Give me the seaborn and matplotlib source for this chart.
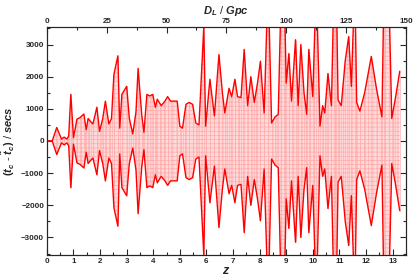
import numpy as np
import pandas as pd
import matplotlib
matplotlib.use('Agg')
import matplotlib.pyplot as plt
import seaborn as sns
from matplotlib.ticker import MultipleLocator

# redshift samples and timing error envelope (secs); values > ylim run off the plot
z = [0.0, 0.2, 0.37, 0.55, 0.65, 0.75, 0.82, 0.9, 1.0, 1.13, 1.25, 1.39, 1.48, 1.55,
     1.65, 1.73, 1.88, 1.98, 2.1, 2.2, 2.33, 2.43, 2.52, 2.67, 2.74, 2.82, 3.0, 3.1,
     3.23, 3.35, 3.43, 3.57, 3.65, 3.76, 3.87, 3.98, 4.08, 4.15, 4.3, 4.44, 4.54, 4.65,
     4.9, 5.0, 5.1, 5.23, 5.35, 5.48, 5.6, 5.72, 5.9, 5.97, 6.13, 6.3, 6.47, 6.6, 6.69,
     6.85, 6.95, 7.07, 7.17, 7.3, 7.42, 7.55, 7.67, 7.8, 7.92, 8.03, 8.17, 8.32, 8.45,
     8.58, 8.7, 8.82, 8.92, 9.0, 9.1, 9.2, 9.35, 9.45, 9.55, 9.67, 9.77, 9.85, 10.0,
     10.13, 10.27, 10.37, 10.45, 10.57, 10.7, 10.8, 10.88, 10.95, 11.07, 11.22, 11.35,
     11.45, 11.58, 11.65, 11.77, 11.95, 12.2, 12.4, 12.6, 12.68, 12.85, 12.97, 13.1, 13.27]
dt = [0, 0, 420, 60, 120, 60, 150, 1450, 100, 680, 730, 840, 350, 700,
      600, 530, 1050, 300, 700, 1240, 530, 700, 2070, 2650, 400, 1450, 1700, 700,
      220, 900, 2260, 780, 270, 1450, 1400, 1450, 1050, 1300, 1100, 1240, 1380, 1240,
      1240, 460, 400, 1140, 1200, 1140, 560, 500, 3550, 460, 1920, 780, 2690, 1500, 870,
      1640, 1380, 1920, 1380, 1350, 2850, 1100, 2000, 1200, 1800, 2480, 870, 5000, 560,
      750, 830, 5000, 5000, 1800, 2720, 1240, 3150, 1100, 3000, 1500, 830, 2850, 1380,
      5000, 460, 1100, 870, 2100, 1100, 5000, 5000, 1280, 1100, 2500, 3250,
      1700, 5000, 1200, 930, 1500, 2630, 1600, 750, 5000, 5000, 700, 1300, 2170]

df = pd.DataFrame({'z': z, 'upper': dt})
df['lower'] = -df['upper']

sns.set_style('ticks')
plt.rcParams['font.family'] = ['Liberation Sans', 'DejaVu Sans']
plt.rcParams['mathtext.fontset'] = 'custom'
plt.rcParams['mathtext.it'] = 'Liberation Sans:italic:bold'
plt.rcParams['mathtext.rm'] = 'Liberation Sans:bold'
plt.rcParams['hatch.linewidth'] = 0.5

fig = plt.figure(figsize=(4.15, 2.77), dpi=100)
ax = fig.add_axes([0.113, 0.079, 0.865, 0.824])

ax.fill_between(df['z'], df['lower'], df['upper'], facecolor='#ffdada',
                edgecolor='#ffa8a8', hatch='++++', linewidth=0)
ax.vlines(df['z'], df['lower'], df['upper'], color='#ffb0b0', linewidth=0.5)
sns.lineplot(data=df, x='z', y='upper', ax=ax, color='#ff0000', linewidth=1.0,
             sort=False, estimator=None)
sns.lineplot(data=df, x='z', y='lower', ax=ax, color='#ff0000', linewidth=1.0,
             sort=False, estimator=None)

ax.set_xlim(0, 13.5)
ax.set_ylim(-3550, 3550)
ax.xaxis.set_major_locator(MultipleLocator(1))
ax.xaxis.set_minor_locator(MultipleLocator(0.5))
ax.yaxis.set_major_locator(MultipleLocator(1000))
ax.yaxis.set_minor_locator(MultipleLocator(500))
ax.tick_params(which='both', direction='in', right=True, labelsize=5.8, pad=2)
ax.tick_params(which='major', length=4, width=0.8)
ax.tick_params(which='minor', length=2, width=0.8)
for lbl in ax.get_xticklabels() + ax.get_yticklabels():
    lbl.set_fontweight('bold')
ax.set_xlabel(r'$z$', fontsize=9, labelpad=0)
ax.set_ylabel(r'$(t_c$ - $\tilde{t}_c)$ / $secs$', fontsize=8, labelpad=3)

top = ax.twiny()
top.set_xlim(0, 150)
top.xaxis.set_major_locator(MultipleLocator(25))
top.xaxis.set_minor_locator(MultipleLocator(12.5))
top.tick_params(which='both', direction='in', labelsize=5.8, pad=1.5)
top.tick_params(which='major', length=4, width=0.8)
top.tick_params(which='minor', length=2, width=0.8)
for lbl in top.get_xticklabels():
    lbl.set_fontweight('bold')
top.set_xlabel(r'$D_L$ / $Gpc$', fontsize=8, labelpad=2.5)

for a in (ax, top):
    for s in a.spines.values():
        s.set_linewidth(0.8)

fig.savefig('out.png', dpi=100)
